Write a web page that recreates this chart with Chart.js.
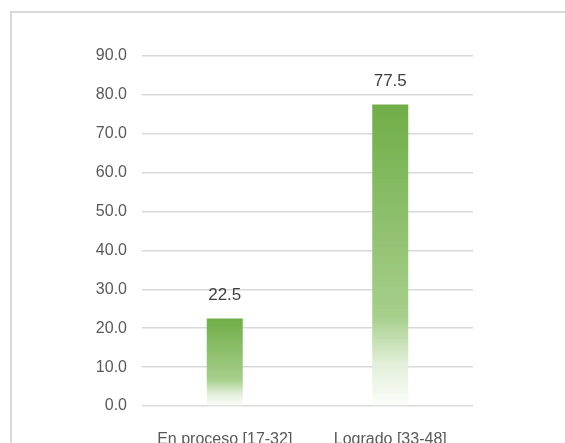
<!DOCTYPE html>
<html lang="es">
<head>
    <meta charset="UTF-8">
    <title>Niveles de logro</title>
    <script src="https://cdn.jsdelivr.net/npm/chart.js"></script>
    <style>
        html, body { margin: 0; padding: 0; background: #fff; }
        .wrap { position: relative; width: 565px; height: 443px; overflow: hidden; }
        .frame { position: absolute; left: 10px; top: 11px; width: 600px; height: 500px; border: 2px solid #D9D9D9; box-sizing: border-box; }
        canvas { position: absolute; left: 0; top: 0; }
    </style>
</head>
<body>
    <div class="wrap">
        <div class="frame"></div>
        <canvas id="chart" width="565" height="443"></canvas>
    </div>

<script>
// datos
const categorias = ['En proceso [17-32]', 'Logrado [33-48]'];
const porcentajes = [22.5, 77.5];
const yMin = 0;
const yMax = 90;
const yPaso = 10;

const fuente = "'Liberation Sans', Arial, sans-serif";

// degradado verde -> blanco por cada barra
function barGradient(context) {
    const chart = context.chart;
    const yScale = chart.scales.y;
    if (!chart.chartArea || !yScale || context.dataIndex === undefined) return '#70AD47';
    const v = context.dataset.data[context.dataIndex];
    const top = yScale.getPixelForValue(v);
    const bottom = yScale.getPixelForValue(0);
    if (!isFinite(top) || !isFinite(bottom) || top === bottom) return '#70AD47';
    const g = chart.ctx.createLinearGradient(0, top, 0, bottom);
    g.addColorStop(0, 'rgba(112,173,71,1)');
    g.addColorStop(0.7, 'rgba(166,207,139,1)');
    g.addColorStop(0.86, 'rgba(226,239,217,1)');
    g.addColorStop(1, 'rgba(252,253,250,1)');
    return g;
}

// etiquetas de valor encima de las barras
const valueLabels = {
    id: 'valueLabels',
    afterDatasetsDraw(chart) {
        const ctx = chart.ctx;
        const meta = chart.getDatasetMeta(0);
        ctx.save();
        ctx.font = '17px ' + fuente;
        ctx.fillStyle = '#404040';
        ctx.textAlign = 'center';
        ctx.textBaseline = 'middle';
        meta.data.forEach((bar, i) => {
            ctx.fillText(porcentajes[i].toFixed(1), bar.x, bar.y - 23);
        });
        ctx.restore();
    }
};

new Chart(document.getElementById('chart'), {
    type: 'bar',
    data: {
        labels: categorias,
        datasets: [{
            data: porcentajes,
            backgroundColor: barGradient,
            borderWidth: 0,
            categoryPercentage: 1,
            barPercentage: 0.2175
        }]
    },
    options: {
        responsive: false,
        animation: false,
        layout: { padding: { top: 56, right: 92, left: 0, bottom: 0 } },
        plugins: {
            legend: { display: false },
            tooltip: { enabled: false }
        },
        scales: {
            x: {
                grid: { display: false, drawTicks: false },
                border: { display: false },
                ticks: {
                    padding: 24,
                    color: '#595959',
                    font: { family: fuente, size: 16 }
                },
                afterFit(scale) { scale.height = 37; }
            },
            y: {
                min: yMin,
                max: yMax,
                z: 1,
                grid: { color: '#D9D9D9', lineWidth: 1.5, drawTicks: false },
                border: { display: false },
                ticks: {
                    stepSize: yPaso,
                    padding: 15,
                    color: '#595959',
                    font: { family: fuente, size: 16 },
                    callback: v => Number(v).toFixed(1)
                },
                afterFit(scale) { scale.width = 142; }
            }
        }
    },
    plugins: [valueLabels]
});
</script>
</body>
</html>
